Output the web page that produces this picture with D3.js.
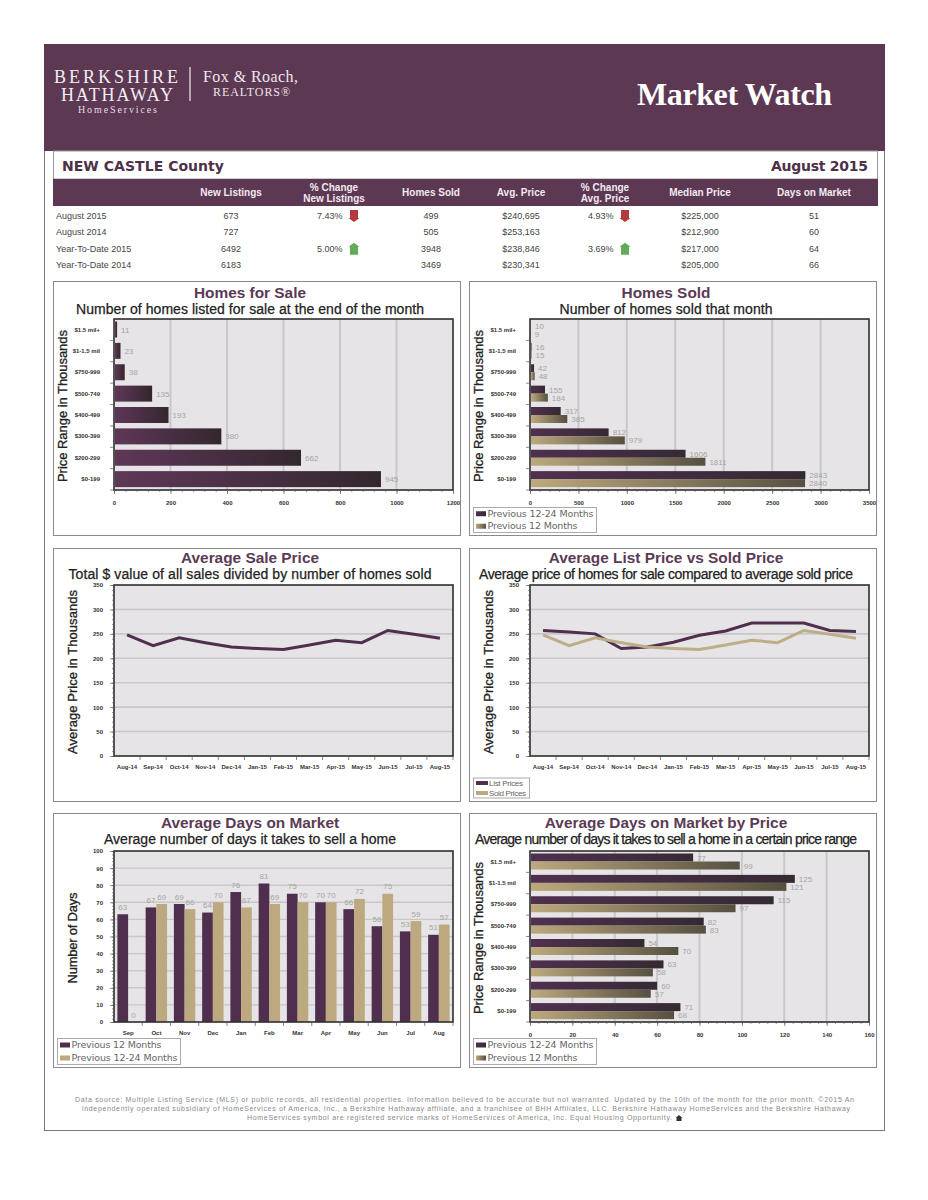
<!DOCTYPE html>
<html>
<head>
<meta charset="utf-8">
<title>Market Watch</title>
<script src="https://cdn.jsdelivr.net/npm/d3@7"></script>
<style>
  html, body { margin: 0; background: #fff; }
  svg { display: block; }
  text { font-family: "Liberation Sans", Arial, sans-serif; }
  .tick text { font-size: 6px; font-weight: bold; fill: #333; }
  .domain { display: none; }
</style>
</head>
<body>
<div id="chart"></div>
<script>
// table
const tableColumns = ['New Listings', ['% Change', 'New Listings'], 'Homes Sold', 'Avg. Price', ['% Change', 'Avg. Price'], 'Median Price', 'Days on Market'];
const tableRows = ['August 2015', 'August 2014', 'Year-To-Date 2015', 'Year-To-Date 2014'];
const newListings = ['673', '727', '6492', '6183'];
const changeListings = ['7.43%', '', '5.00%', ''];
const homesSoldRow = ['499', '505', '3948', '3469'];
const avgPriceRow = ['$240,695', '$253,163', '$238,846', '$230,341'];
const changePrice = ['4.93%', '', '3.69%', ''];
const medianPrice = ['$225,000', '$212,900', '$217,000', '$205,000'];
const daysRow = ['51', '60', '64', '66'];
const changeDirection = ['down', '', 'up', ''];

// charts
const priceRanges = ['$1.5 mil+', '$1-1.5 mil', '$750-999', '$500-749', '$400-499', '$300-399', '$200-299', '$0-199'];
const homesForSale = [11, 23, 38, 135, 193, 380, 662, 945];
const soldPrev24 = [10, 16, 42, 155, 317, 812, 1606, 2843];
const soldPrev12 = [9, 15, 48, 184, 385, 979, 1811, 2840];
const priceMonths = ['Aug-14', 'Sep-14', 'Oct-14', 'Nov-14', 'Dec-14', 'Jan-15', 'Feb-15', 'Mar-15', 'Apr-15', 'May-15', 'Jun-15', 'Jul-15', 'Aug-15'];
const salePrices = [248, 226, 242, 232, 223, 220, 218, 227, 237, 232, 257, 249, 241];
const listPrices = [257, 254, 250, 220, 223, 233, 247, 256, 272, 272, 272, 257, 255];
const dayMonths = ['Sep', 'Oct', 'Nov', 'Dec', 'Jan', 'Feb', 'Mar', 'Apr', 'May', 'Jun', 'Jul', 'Aug'];
const daysPrev12 = [63, 67, 69, 64, 76, 81, 75, 70, 66, 56, 53, 51];
const daysPrev24 = [0, 69, 66, 70, 67, 69, 70, 70, 72, 75, 59, 57];
const domPrev24 = [77, 125, 115, 82, 54, 63, 60, 71];
const domPrev12 = [99, 121, 97, 83, 70, 58, 57, 68];

const footerLines = [
  'Data source: Multiple Listing Service (MLS) or public records, all residential properties. Information believed to be accurate but not warranted. Updated by the 10th of the month for the prior month. ©2015 An',
  'independently operated subsidiary of HomeServices of America, Inc., a Berkshire Hathaway affiliate, and a franchisee of BHH Affiliates, LLC. Berkshire Hathaway HomeServices and the Berkshire Hathaway',
  'HomeServices symbol are registered service marks of HomeServices of America, Inc. Equal Housing Opportunity.'
];

const darkPlum = '#4f2f4d';
const tan = '#bca97f';
const serif = '"Liberation Serif", "DejaVu Serif", serif';
const plotW = 339;
const plotH = 171;

const svg = d3.select('#chart').append('svg').attr('width', 928).attr('height', 1200);
const defs = svg.append('defs');

function gradient(id, from, to) {
  const g = defs.append('linearGradient').attr('id', id);
  g.append('stop').attr('offset', '0%').attr('stop-color', from);
  g.append('stop').attr('offset', '100%').attr('stop-color', to);
}
gradient('plumBar', '#5f3758', '#33272f');
gradient('plumBar2', '#50304f', '#352a33');
gradient('tanBar', '#bda97d', '#565041');
const fillFor = { plum: 'url(#plumBar)', plum2: 'url(#plumBar2)', tan: 'url(#tanBar)' };

function label(parent, str, x, y, size, color, opts = {}) {
  const t = parent.append('text')
    .attr('x', x)
    .attr('y', y)
    .attr('font-size', size)
    .attr('fill', color)
    .attr('text-anchor', opts.anchor || 'start')
    .attr('font-weight', opts.weight || 'normal')
    .text(str);
  if (opts.family) t.style('font-family', opts.family);
  if (opts.len) t.attr('textLength', opts.len).attr('lengthAdjust', 'spacing');
  if (opts.heavy) t.attr('stroke', color).attr('stroke-width', opts.heavy);
  return t;
}

// page frame and header
svg.append('rect').attr('x', 44.5).attr('y', 44.5).attr('width', 840).attr('height', 1086).attr('fill', '#fff').attr('stroke', '#777');
svg.append('rect').attr('x', 44).attr('y', 44).attr('width', 841).attr('height', 107).attr('fill', '#5c3853');
label(svg, 'BERKSHIRE', 116, 82.5, 18, '#f3eef2', { anchor: 'middle', family: serif, len: 124 });
label(svg, 'HATHAWAY', 117, 100.5, 18, '#f3eef2', { anchor: 'middle', family: serif, len: 112 });
label(svg, 'HomeServices', 117.5, 112.5, 10, '#e6dde4', { anchor: 'middle', family: serif, len: 79 });
svg.append('line').attr('x1', 190).attr('x2', 190).attr('y1', 67).attr('y2', 101).attr('stroke', '#eee').attr('stroke-width', 1.2);
label(svg, 'Fox & Roach,', 203, 82, 16, '#eee6ec', { family: serif, len: 95 });
label(svg, 'REALTORS®', 213, 96, 12, '#eee6ec', { family: serif, len: 77 });
label(svg, 'Market Watch', 637, 105, 32, '#fff', { family: serif, weight: 'bold', len: 195 });

// county band
svg.append('rect').attr('x', 53.5).attr('y', 151).attr('width', 824).attr('height', 28).attr('fill', '#fff').attr('stroke', '#999');
label(svg, 'NEW CASTLE County', 62, 171, 14, '#4e3048', { weight: 'bold', family: '"DejaVu Sans"', len: 162 });
label(svg, 'August 2015', 868, 171, 14, '#4e3048', { weight: 'bold', anchor: 'end', family: '"DejaVu Sans"', len: 97 });

// summary table
const columnCenters = [231, 334, 431, 521, 605, 700, 814];
svg.append('rect').attr('x', 53).attr('y', 179).attr('width', 825).attr('height', 27).attr('fill', '#5c3853');
tableColumns.forEach((c, i) => {
  const lines = Array.isArray(c) ? c : [c];
  lines.forEach((l, j) => {
    const y = lines.length === 1 ? 196 : 190.5 + j * 11.5;
    label(svg, l, columnCenters[i], y, 10, '#f2eaf0', { anchor: 'middle', weight: 'bold' });
  });
});
const rowY = d3.scalePoint().domain(d3.range(tableRows.length)).range([219, 268]);
const textColumns = [newListings, null, homesSoldRow, avgPriceRow, null, medianPrice, daysRow];
tableRows.forEach((r, i) => {
  label(svg, r, 56, rowY(i), 9, '#444');
  textColumns.forEach((col, c) => {
    if (col) label(svg, col[i], columnCenters[c], rowY(i), 9, '#444', { anchor: 'middle' });
  });
  [[changeListings, 317, 354], [changePrice, 588, 625]].forEach(([col, x, ax]) => {
    if (!col[i]) return;
    label(svg, col[i], x, rowY(i), 9, '#444');
    const down = changeDirection[i] === 'down';
    svg.append('path')
      .attr('transform', `translate(${ax},${rowY(i) - 3}) scale(1,${down ? 1 : -1})`)
      .attr('d', 'M-4,-6H4V2H5.5L0,6L-5.5,2H-4Z')
      .attr('fill', down ? '#b5383c' : '#62ab58');
  });
});

// panel frame with plot area, titles and axis title
function panel(p) {
  const g = svg.append('g');
  g.append('rect').attr('x', p.x + 0.5).attr('y', p.y + 0.5).attr('width', 407).attr('height', p.h)
    .attr('fill', '#fff').attr('stroke', '#8a8a8a');
  const cx = p.x + 197;
  label(g, p.title, cx, p.titleY, 15.4, '#5a3a55', { anchor: 'middle', weight: 'bold' });
  label(g, p.sub, cx, p.titleY + 15.5, 14, '#222', { anchor: 'middle', len: p.subLen, heavy: 0.25 });
  const yLabel = label(g, p.yTitle, 0, 0, 13, '#222', { anchor: 'middle', len: p.yLen, heavy: 0.3 });
  yLabel.attr('transform', `translate(${p.x + p.yOff},${p.plotY + 87}) rotate(-90)`);
  const plot = g.append('g').attr('transform', `translate(${p.x + 61},${p.plotY})`);
  plot.append('rect').attr('width', plotW).attr('height', plotH).attr('fill', '#e6e4e6');
  return { g, plot };
}

function finishPlot(plot) {
  plot.append('rect').attr('width', plotW).attr('height', plotH).attr('fill', 'none').attr('stroke', '#2e2e2e').attr('stroke-width', 1.6);
}

function boundaryTicks(plot, band, vertical) {
  plot.append('g').selectAll('line')
    .data(band.domain().slice(1).concat(['__end']))
    .join('line')
    .attr('stroke', '#555')
    .attr('stroke-width', 0.7)
    .each(function(d) {
      const pos = d === '__end' ? band.range()[1] : band(d);
      if (vertical) d3.select(this).attr('x1', -4).attr('x2', 0).attr('y1', pos).attr('y2', pos);
      else d3.select(this).attr('x1', pos).attr('x2', pos).attr('y1', plotH).attr('y2', plotH + 4);
    });
}

function valueAxisMinor(plot, scale, step, vertical) {
  const vals = d3.range(scale.domain()[0], scale.domain()[1] + step / 2, step);
  const axis = vertical ? d3.axisLeft(scale) : d3.axisBottom(scale);
  const a = plot.append('g').call(axis.tickValues(vals).tickSize(2).tickFormat(''));
  if (!vertical) a.attr('transform', `translate(0,${plotH})`);
  a.selectAll('line').attr('stroke', '#555').attr('stroke-width', 0.6);
}

function hBarChart(p, series, maxVal, tickStep, minorStep, legend) {
  const { g, plot } = panel(p);
  const x = d3.scaleLinear().domain([0, maxVal]).range([0, plotW]);
  const y = d3.scaleBand().domain(priceRanges).range([0, plotH]);
  const ticks = d3.range(0, maxVal + 1, tickStep);

  plot.append('g').selectAll('line').data(ticks.slice(1, -1)).join('line')
    .attr('x1', d => x(d)).attr('x2', d => x(d)).attr('y1', 0).attr('y2', plotH)
    .attr('stroke', '#c8c8c8').attr('stroke-width', 2);

  const inner = d3.scaleBand().domain(series.map(s => s.name)).range([2.5, 18.5]);
  series.forEach(s => {
    plot.append('g').selectAll('rect').data(s.values).join('rect')
      .attr('x', 1)
      .attr('y', (d, i) => y(priceRanges[i]) + inner(s.name))
      .attr('width', d => Math.max(0, x(d) - 1))
      .attr('height', inner.bandwidth())
      .attr('fill', fillFor[s.color]);
    plot.append('g').selectAll('text').data(s.values).join('text')
      .attr('x', d => x(d) + 4)
      .attr('y', (d, i) => y(priceRanges[i]) + inner(s.name) + inner.bandwidth() / 2 + 3)
      .attr('font-size', 8)
      .attr('fill', '#a5a5a5')
      .text(d => d);
  });

  finishPlot(plot);
  valueAxisMinor(plot, x, minorStep, false);
  plot.append('g').attr('transform', `translate(0,${plotH})`)
    .call(d3.axisBottom(x).tickValues(ticks).tickFormat(d3.format('d')).tickSize(4).tickPadding(7))
    .selectAll('line').attr('stroke', '#555').attr('stroke-width', 0.7);
  plot.append('g').call(d3.axisLeft(y).tickSize(0).tickPadding(14));
  boundaryTicks(plot, y, true);
  if (legend) drawLegend(g, p, legend);
}

function lineChart(p, series, legend) {
  const { g, plot } = panel(p);
  const x = d3.scaleBand().domain(priceMonths).range([0, plotW]);
  const y = d3.scaleLinear().domain([0, 350]).range([plotH, 0]);
  const ticks = d3.range(0, 351, 50);

  plot.append('g').selectAll('line').data(ticks.slice(1, -1)).join('line')
    .attr('x1', 0).attr('x2', plotW).attr('y1', d => y(d)).attr('y2', d => y(d))
    .attr('stroke', '#c8c8c8').attr('stroke-width', 1.6);

  const line = d3.line()
    .x((d, i) => x(priceMonths[i]) + x.bandwidth() / 2)
    .y(d => y(d));
  series.forEach(s => {
    plot.append('path').datum(s.values)
      .attr('d', line)
      .attr('fill', 'none')
      .attr('stroke', s.color === 'plum' ? darkPlum : '#bdae88')
      .attr('stroke-width', 3);
  });

  finishPlot(plot);
  valueAxisMinor(plot, y, 10, true);
  plot.append('g')
    .call(d3.axisLeft(y).tickValues(ticks).tickSize(4).tickPadding(7))
    .selectAll('line').attr('stroke', '#555').attr('stroke-width', 0.7);
  plot.append('g').attr('transform', `translate(0,${plotH})`)
    .call(d3.axisBottom(x).tickSize(0).tickPadding(9));
  boundaryTicks(plot, x, false);
  if (legend) drawLegend(g, p, legend);
}

function columnChart(p, series, legend) {
  const { g, plot } = panel(p);
  const x = d3.scaleBand().domain(dayMonths).range([0, plotW]);
  const y = d3.scaleLinear().domain([0, 100]).range([plotH, 0]);
  const ticks = d3.range(0, 101, 10);

  plot.append('g').selectAll('line').data(ticks.slice(1, -1)).join('line')
    .attr('x1', 0).attr('x2', plotW).attr('y1', d => y(d)).attr('y2', d => y(d))
    .attr('stroke', '#c8c8c8').attr('stroke-width', 1.4);

  const inner = d3.scaleBand().domain(series.map(s => s.name)).range([3.4, 24.8]);
  series.forEach(s => {
    plot.append('g').selectAll('rect').data(s.values).join('rect')
      .attr('x', (d, i) => x(dayMonths[i]) + inner(s.name))
      .attr('y', d => y(d))
      .attr('width', inner.bandwidth())
      .attr('height', d => plotH - y(d))
      .attr('fill', s.color === 'plum' ? darkPlum : tan);
    plot.append('g').selectAll('text').data(s.values).join('text')
      .attr('x', (d, i) => x(dayMonths[i]) + inner(s.name) + inner.bandwidth() / 2)
      .attr('y', d => y(d) - 4.5)
      .attr('text-anchor', 'middle')
      .attr('font-size', 8)
      .attr('fill', '#a5a5a5')
      .text(d => d);
  });

  finishPlot(plot);
  valueAxisMinor(plot, y, 2, true);
  plot.append('g')
    .call(d3.axisLeft(y).tickValues(ticks).tickSize(4).tickPadding(7))
    .selectAll('line').attr('stroke', '#555').attr('stroke-width', 0.7);
  plot.append('g').attr('transform', `translate(0,${plotH})`)
    .call(d3.axisBottom(x).tickSize(0).tickPadding(9));
  boundaryTicks(plot, x, false);
  if (legend) drawLegend(g, p, legend);
}

function drawLegend(g, p, lg) {
  const box = g.append('g').attr('transform', `translate(${p.x + 4},${lg.y})`);
  box.append('rect').attr('x', 0.5).attr('y', 0.5).attr('width', lg.w).attr('height', lg.h)
    .attr('fill', '#fff').attr('stroke', '#aaa');
  lg.items.forEach((it, i) => {
    const rowH = lg.h / lg.items.length;
    const cy = rowH * (i + 0.5) + 0.5;
    const sh = lg.line ? 4 : 5;
    box.append('rect').attr('x', 3).attr('y', cy - sh / 2).attr('width', lg.line ? 12 : 10).attr('height', sh)
      .attr('fill', lg.flat ? (it.color === 'plum' ? darkPlum : tan) : fillFor[it.color]);
    label(box, it.name, lg.line ? 16 : 14.5, cy + 3, lg.size, '#666', { family: lg.family, len: it.len });
  });
}

const wide = '"DejaVu Sans"';
const row1 = { plotY: 319, h: 254, titleY: 298 };
const row2 = { plotY: 585, h: 253, titleY: 563 };
const row3 = { plotY: 851, h: 254, titleY: 828 };

hBarChart(
  { ...row1, x: 53, y: 281, title: 'Homes for Sale', sub: 'Number of homes listed for sale at the end of the month', subLen: 348, yTitle: 'Price Range in Thousands', yOff: 14, yLen: 152 },
  [{ name: 'All', values: homesForSale, color: 'plum' }],
  1200, 200, 40
);

hBarChart(
  { ...row1, x: 469, y: 281, title: 'Homes Sold', sub: 'Number of homes sold that month', subLen: 213, yTitle: 'Price Range in Thousands', yOff: 14, yLen: 152 },
  [{ name: 'Previous 12-24 Months', values: soldPrev24, color: 'plum2' }, { name: 'Previous 12 Months', values: soldPrev12, color: 'tan' }],
  3500, 500, 100,
  { y: 507, w: 123, h: 25, size: 9.5, family: wide, items: [{ name: 'Previous 12-24 Months', color: 'plum2', len: 106 }, { name: 'Previous 12 Months', color: 'tan', len: 90 }] }
);

lineChart(
  { ...row2, x: 53, y: 548, title: 'Average Sale Price', sub: 'Total $ value of all sales divided by number of homes sold', subLen: 363, yTitle: 'Average Price in Thousands', yOff: 24, yLen: 164 },
  [{ name: 'Sold', values: salePrices, color: 'plum' }]
);

lineChart(
  { ...row2, x: 469, y: 548, title: 'Average List Price vs Sold Price', sub: 'Average price of homes for sale compared to average sold price', subLen: 374, yTitle: 'Average Price in Thousands', yOff: 24, yLen: 164 },
  [{ name: 'List Prices', values: listPrices, color: 'plum' }, { name: 'Sold Prices', values: salePrices, color: 'tan' }],
  { y: 777.5, w: 56, h: 20, size: 8, line: true, flat: true, items: [{ name: 'List Prices', color: 'plum', len: 34 }, { name: 'Sold Prices', color: 'tan', len: 37 }] }
);

columnChart(
  { ...row3, x: 53, y: 813, title: 'Average Days on Market', sub: 'Average number of days it takes to sell a home', subLen: 292, yTitle: 'Number of Days', yOff: 24, yLen: 91 },
  [{ name: 'Previous 12 Months', values: daysPrev12, color: 'plum' }, { name: 'Previous 12-24 Months', values: daysPrev24, color: 'tan' }],
  { y: 1038, w: 123, h: 26, size: 9.5, family: wide, flat: true, items: [{ name: 'Previous 12 Months', color: 'plum', len: 90 }, { name: 'Previous 12-24 Months', color: 'tan', len: 106 }] }
);

hBarChart(
  { ...row3, x: 469, y: 813, title: 'Average Days on Market by Price', sub: 'Average number of days it takes to sell a home in a certain price range', subLen: 382, yTitle: 'Price Range in Thousands', yOff: 14, yLen: 152 },
  [{ name: 'Previous 12-24 Months', values: domPrev24, color: 'plum2' }, { name: 'Previous 12 Months', values: domPrev12, color: 'tan' }],
  160, 20, 4,
  { y: 1038, w: 123, h: 26, size: 9.5, family: wide, items: [{ name: 'Previous 12-24 Months', color: 'plum2', len: 106 }, { name: 'Previous 12 Months', color: 'tan', len: 90 }] }
);

// footer
footerLines.forEach((l, i) => {
  label(svg, l, [464.5, 466, 459.5][i], 1101.5 + i * 9.3, 7, '#888', { anchor: 'middle', len: [779, 768, 425][i] });
});
svg.append('path')
  .attr('transform', 'translate(679,1118)')
  .attr('d', 'M-3.5,0L0,-3L3.5,0H2.5V3H-2.5V0Z')
  .attr('fill', '#333');
</script>
</body>
</html>
